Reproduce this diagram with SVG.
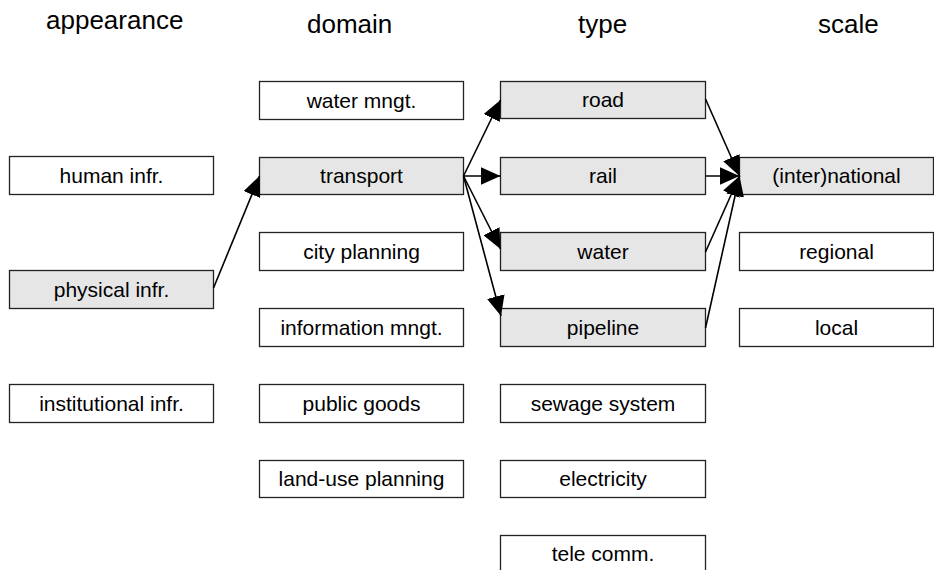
<svg xmlns="http://www.w3.org/2000/svg" width="934" height="570" viewBox="0 0 934 570">
<style>
.hdr{font-family:"Liberation Sans",Arial,sans-serif;font-size:26px;fill:#000}
.box{fill:#fff;stroke:#222;stroke-width:1.3}
.sel{fill:#e6e6e6;stroke:#222;stroke-width:1.3}
.lbl{font-family:"Liberation Sans",Arial,sans-serif;font-size:21px;fill:#000;text-anchor:middle}
.edge{stroke:#000;stroke-width:1.6;fill:none;marker-end:url(#ah)}
</style>
<defs>
<marker id="ah" markerUnits="userSpaceOnUse" markerWidth="21" markerHeight="18" refX="20" refY="9" orient="auto">
<path d="M0,0 L20,9 L0,18 z" fill="#000"/>
</marker>
</defs>
<rect width="934" height="570" fill="#fff"/>
<g id="headers">
<text class="hdr" x="46" y="29">appearance</text>
<text class="hdr" x="307" y="33">domain</text>
<text class="hdr" x="578" y="33">type</text>
<text class="hdr" x="818" y="33">scale</text>
</g>
<g id="n-human"><rect class="box" x="9.5" y="156.5" width="204" height="38"/><text class="lbl" x="111.5" y="182.5">human infr.</text></g>
<g id="n-physical"><rect class="sel" x="9.5" y="270.5" width="204" height="38"/><text class="lbl" x="111.5" y="296.5">physical infr.</text></g>
<g id="n-institutional"><rect class="box" x="9.5" y="384.5" width="204" height="38"/><text class="lbl" x="111.5" y="410.5">institutional infr.</text></g>

<g id="n-water-mngt"><rect class="box" x="259.5" y="81.5" width="204" height="38"/><text class="lbl" x="361.5" y="107.5">water mngt.</text></g>
<g id="n-transport"><rect class="sel" x="259.5" y="157.5" width="204" height="37"/><text class="lbl" x="361.5" y="183">transport</text></g>
<g id="n-city"><rect class="box" x="259.5" y="232.5" width="204" height="38"/><text class="lbl" x="361.5" y="258.5">city planning</text></g>
<g id="n-info"><rect class="box" x="259.5" y="308.5" width="204" height="38"/><text class="lbl" x="361.5" y="334.5">information mngt.</text></g>
<g id="n-public"><rect class="box" x="259.5" y="384.5" width="204" height="38"/><text class="lbl" x="361.5" y="410.5">public goods</text></g>
<g id="n-landuse"><rect class="box" x="259.5" y="460.5" width="204" height="37"/><text class="lbl" x="361.5" y="486">land-use planning</text></g>

<g id="n-road"><rect class="sel" x="500.5" y="81.5" width="205" height="37"/><text class="lbl" x="603" y="107">road</text></g>
<g id="n-rail"><rect class="sel" x="500.5" y="157.5" width="205" height="37"/><text class="lbl" x="603" y="183">rail</text></g>
<g id="n-water"><rect class="sel" x="500.5" y="232.5" width="205" height="38"/><text class="lbl" x="603" y="258.5">water</text></g>
<g id="n-pipeline"><rect class="sel" x="500.5" y="308.5" width="205" height="38"/><text class="lbl" x="603" y="334.5">pipeline</text></g>
<g id="n-sewage"><rect class="box" x="500.5" y="384.5" width="205" height="38"/><text class="lbl" x="603" y="410.5">sewage system</text></g>
<g id="n-electricity"><rect class="box" x="500.5" y="460.5" width="205" height="37"/><text class="lbl" x="603" y="486">electricity</text></g>
<g id="n-telecomm"><rect class="box" x="500.5" y="535.5" width="205" height="38"/><text class="lbl" x="603" y="561">tele comm.</text></g>

<g id="n-international"><rect class="sel" x="739.5" y="157.5" width="194" height="37"/><text class="lbl" x="836.5" y="183">(inter)national</text></g>
<g id="n-regional"><rect class="box" x="739.5" y="232.5" width="194" height="38"/><text class="lbl" x="836.5" y="258.5">regional</text></g>
<g id="n-local"><rect class="box" x="739.5" y="308.5" width="194" height="38"/><text class="lbl" x="836.5" y="334.5">local</text></g>

<g id="connectors">
<line class="edge" x1="213.5" y1="288" x2="259.5" y2="176"/>
<line class="edge" x1="463.5" y1="176" x2="500.5" y2="100"/>
<line class="edge" x1="463.5" y1="176" x2="500.5" y2="176"/>
<line class="edge" x1="463.5" y1="176" x2="500.5" y2="249"/>
<line class="edge" x1="463.5" y1="176" x2="501" y2="316"/>
<line class="edge" x1="705.5" y1="99" x2="739.5" y2="176"/>
<line class="edge" x1="705.5" y1="176" x2="739.5" y2="176"/>
<line class="edge" x1="705.5" y1="252" x2="739.5" y2="176"/>
<line class="edge" x1="705.5" y1="328" x2="739.5" y2="176"/>
</g>
</svg>
